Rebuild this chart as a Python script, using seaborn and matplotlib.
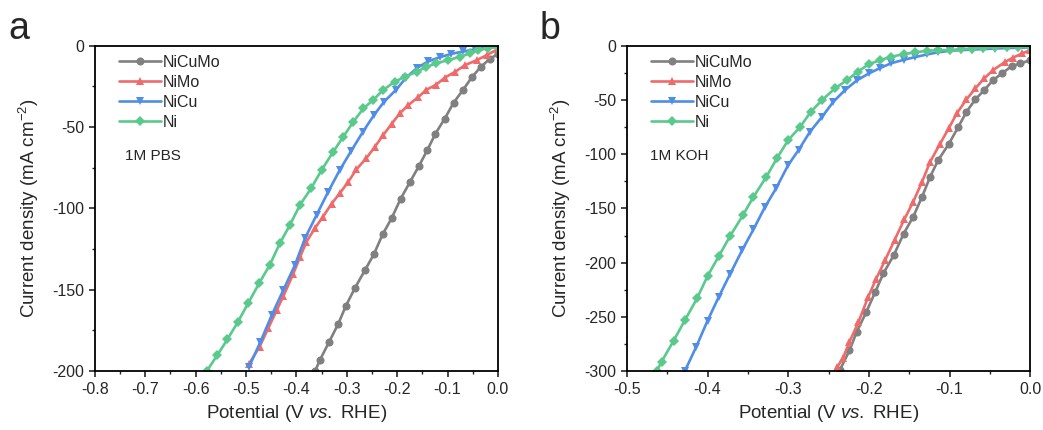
import numpy as np
import pandas as pd
import matplotlib
matplotlib.use("Agg")
import matplotlib.pyplot as plt
from matplotlib.ticker import MultipleLocator
import seaborn as sns

# ---------------- data: panel a (1M PBS) ----------------
a_nicumo_v = [0.0, -0.016, -0.034, -0.051, -0.069, -0.088, -0.106, -0.124, -0.140, -0.157, -0.175,
              -0.193, -0.211, -0.229, -0.246, -0.264, -0.284, -0.302, -0.317, -0.335, -0.353, -0.363]
a_nicumo_j = [-5, -8, -13, -19, -27, -35, -45, -54, -64, -74, -84,
              -94, -106, -116, -128, -138, -149, -160, -171, -182, -193, -200]

a_nimo_v = [0.0, -0.022, -0.042, -0.066, -0.085, -0.105, -0.123, -0.142, -0.158, -0.178, -0.195,
            -0.211, -0.228, -0.244, -0.261, -0.281, -0.297, -0.314, -0.330, -0.347, -0.363, -0.380,
            -0.393, -0.406, -0.426, -0.439, -0.456, -0.473, -0.494]
a_nimo_j = [-2, -5.7, -8.8, -12, -16, -19.5, -24, -27, -31.5, -36.5, -41.6,
            -48, -55, -62, -69, -76, -83.6, -90.7, -97, -105, -112, -120.5,
            -130, -140, -154, -162.5, -173.7, -185, -195.5]

a_nicu_v = [0.0, -0.023, -0.046, -0.069, -0.093, -0.115, -0.138, -0.160, -0.182, -0.202, -0.226,
            -0.246, -0.268, -0.291, -0.314, -0.337, -0.360, -0.383, -0.403, -0.426, -0.449, -0.472, -0.494]
a_nicu_j = [-0.5, -1.2, -2.2, -3.5, -5, -7, -9.5, -13.5, -19.5, -27, -34.4,
            -42.6, -52.9, -64.5, -76.4, -89.8, -104, -118.4, -134.8, -150.2, -165.6, -182.4, -197.4]

a_ni_v = [0.0, -0.019, -0.039, -0.056, -0.075, -0.099, -0.122, -0.142, -0.161, -0.185, -0.205,
          -0.228, -0.248, -0.267, -0.287, -0.307, -0.327, -0.350, -0.371, -0.393, -0.413, -0.433,
          -0.453, -0.474, -0.496, -0.516, -0.537, -0.557, -0.578]
a_ni_j = [-0.5, -1.6, -2.6, -4.7, -6.8, -8.8, -10.8, -12.9, -16, -19.1, -22.1,
          -27.2, -33.4, -38.5, -46.7, -55.9, -65.2, -76.4, -87.7, -97.9, -110.2, -121.5,
          -134.8, -146, -158.4, -169.7, -180.5, -190.2, -200]

# ---------------- data: panel b (1M KOH) ----------------
b_nicumo_v = [0.0, -0.012, -0.023, -0.035, -0.046, -0.057, -0.068, -0.079, -0.089, -0.101, -0.114,
              -0.124, -0.134, -0.145, -0.157, -0.169, -0.182, -0.192, -0.203, -0.215, -0.224, -0.236]
b_nicumo_j = [-13.2, -16.3, -18.8, -25.5, -31.7, -40.9, -49.5, -60.9, -74.7, -90.7, -105.4,
              -120.8, -139.2, -157.7, -173.5, -193, -209.9, -226.9, -245.3, -263.8, -281, -299]

b_nimo_v = [0.0, -0.010, -0.021, -0.031, -0.046, -0.057, -0.068, -0.079, -0.091, -0.101, -0.112,
            -0.124, -0.134, -0.145, -0.156, -0.168, -0.180, -0.191, -0.201, -0.213, -0.224, -0.232, -0.239]
b_nimo_j = [-4, -7.1, -10.8, -14.8, -22.4, -30.1, -39.3, -49.5, -62.4, -76.2, -90.7,
            -107, -125.4, -143.9, -160, -179, -198, -215, -232, -255, -273, -288, -296]

b_nicu_v = [0.0, -0.015, -0.029, -0.043, -0.058, -0.072, -0.086, -0.100, -0.114, -0.128, -0.143,
            -0.157, -0.172, -0.186, -0.200, -0.215, -0.229, -0.244, -0.258, -0.273, -0.287, -0.300,
            -0.315, -0.329, -0.343, -0.357, -0.372, -0.386, -0.400, -0.414, -0.428]
b_nicu_j = [-1.5, -1.8, -2.1, -2.5, -3, -3.5, -4, -4.6, -6, -8, -10.5,
            -13, -16, -20.5, -25.5, -32, -40.5, -51.6, -65.5, -79.3, -96, -110,
            -131.5, -149, -169.3, -188.4, -210.5, -231.5, -253.6, -277.6, -299.8]

b_ni_v = [0.0, -0.0145, -0.029, -0.043, -0.058, -0.072, -0.086, -0.100, -0.114, -0.128, -0.143,
          -0.157, -0.172, -0.186, -0.200, -0.214, -0.227, -0.242, -0.258, -0.272, -0.285, -0.300,
          -0.314, -0.327, -0.343, -0.356, -0.372, -0.386, -0.400, -0.413, -0.428, -0.442, -0.457, -0.463]
b_ni_j = [-0.9, -0.9, -0.9, -1.2, -1.8, -2.5, -3.1, -4, -4, -4.6, -6.1,
          -7.7, -10.1, -13.2, -17, -24, -31.6, -39.3, -50.1, -60.9, -74.7, -87,
          -103.8, -120.8, -139.3, -156.1, -175.5, -194, -212.4, -233, -253, -272, -291.4, -300]

labels = ["NiCuMo", "NiMo", "NiCu", "Ni"]
colors = ["#808080", "#EF6B6B", "#4F8DE6", "#5AC98C"]
markers = ["o", "^", "v", "D"]

sns.set_style("ticks")
plt.rcParams["font.family"] = ["Liberation Sans", "DejaVu Sans"]
plt.rcParams["mathtext.fontset"] = "custom"
plt.rcParams["mathtext.rm"] = "Liberation Sans"
plt.rcParams["mathtext.it"] = "Liberation Sans:italic"
plt.rcParams["axes.unicode_minus"] = False

fig = plt.figure(figsize=(10.43, 4.30), dpi=100)
ax_a = fig.add_axes([0.091, 0.137, 0.3864, 0.7565])
ax_b = fig.add_axes([0.601, 0.137, 0.3867, 0.7565])

panels = [
    (ax_a, [(a_nicumo_v, a_nicumo_j), (a_nimo_v, a_nimo_j), (a_nicu_v, a_nicu_j), (a_ni_v, a_ni_j)],
     (-0.8, 0.0), (-200, 0), 50, "1M PBS", "a"),
    (ax_b, [(b_nicumo_v, b_nicumo_j), (b_nimo_v, b_nimo_j), (b_nicu_v, b_nicu_j), (b_ni_v, b_ni_j)],
     (-0.5, 0.0), (-300, 0), 50, "1M KOH", "b"),
]

for ax, series, xl, yl, ystep, note, letter in panels:
    for (v, j), lab, c, m in zip(series, labels, colors, markers):
        sns.lineplot(x=v, y=j, ax=ax, sort=False, color=c, marker=m, markersize=5.8 if m != "D" else 4.8,
                     markeredgewidth=0, linewidth=1.9, label=lab, estimator=None)
    ax.set_xlim(*xl)
    ax.set_ylim(*yl)
    ax.xaxis.set_major_locator(MultipleLocator(0.1))
    ax.xaxis.set_minor_locator(MultipleLocator(0.05))
    ax.yaxis.set_major_locator(MultipleLocator(ystep))
    ax.yaxis.set_minor_locator(MultipleLocator(ystep / 2))
    ax.xaxis.set_major_formatter(matplotlib.ticker.FormatStrFormatter("%.1f"))
    ax.tick_params(which="major", direction="out", length=4.5, width=1.2, labelsize=11.5, pad=3,
                   top=False, right=False)
    ax.tick_params(which="minor", direction="out", length=2.5, width=1.0, top=False, right=False)
    for s in ax.spines.values():
        s.set_linewidth(1.3)
        s.set_color("black")
    ax.set_xlabel(r"Potential (V $\it{vs.}$ RHE)", fontsize=13.5, labelpad=5)
    ax.set_ylabel(r"Current density (mA cm$^{-2}$)", fontsize=13.5, labelpad=8)
    leg = ax.legend(loc="upper left", bbox_to_anchor=(0.035, 1.005), frameon=False, fontsize=11.5,
                    handlelength=2.6, handletextpad=0.1, labelspacing=0.32, borderaxespad=0.25)
    ax.text(0.074 if letter == "a" else 0.058, 0.661, note, transform=ax.transAxes,
            fontsize=11, va="center", ha="left")

fig.text(0.008, 1 - 39 / 430, "a", fontsize=27, va="baseline", ha="left")
fig.text(0.517, 1 - 39 / 430, "b", fontsize=27, va="baseline", ha="left")

fig.savefig("out.png", dpi=100)
